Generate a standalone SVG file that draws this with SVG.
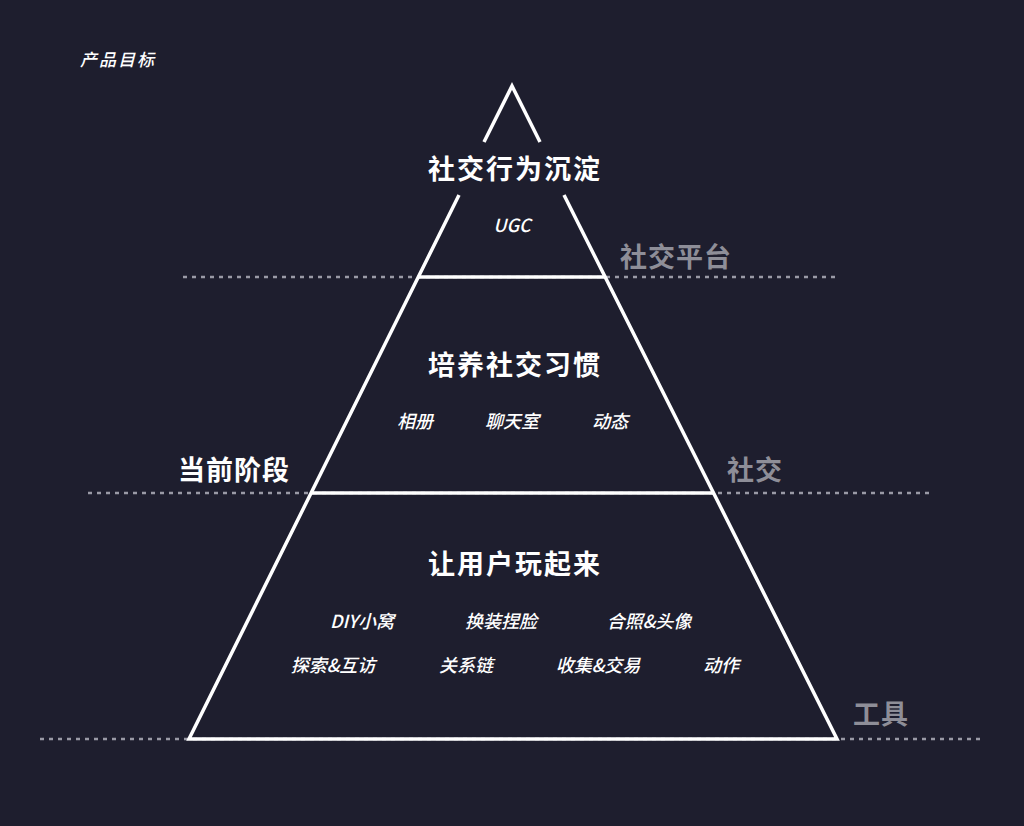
<svg xmlns="http://www.w3.org/2000/svg" width="1024" height="826" viewBox="0 0 1024 826">
<style>
text{font-family:"Noto Sans CJK SC","Noto Sans",sans-serif;fill:#fff}
.t{font-size:27px;font-weight:bold;text-anchor:middle;letter-spacing:2px}
.s{font-size:18px;text-anchor:middle;font-style:italic;font-weight:500}
.g{font-size:27px;fill:#8e8e98;font-weight:bold;letter-spacing:1px}
.d{stroke:#9a9aa6;stroke-width:2.5;stroke-dasharray:4 5}
.p{stroke:#fff;stroke-width:3.5;fill:none}
</style>
<rect width="1024" height="826" fill="#1e1e2e"/>
<g id="guides">
<line class="d" x1="183" y1="277" x2="836" y2="277"/>
<line class="d" x1="88" y1="493" x2="932" y2="493"/>
<line class="d" x1="40" y1="739" x2="980" y2="739"/>
</g>
<g id="pyramid">
<polyline class="p" points="484,142 512,86 540,142"/>
<polyline class="p" points="459,195 189,739 837,739 564,195"/>
<line class="p" x1="418" y1="277" x2="605" y2="277"/>
<line class="p" x1="311" y1="493" x2="714" y2="493"/>
</g>
<text x="80" y="66" font-size="17" font-style="italic" font-weight="500" letter-spacing="2">产品目标</text>
<g id="top"><text class="t" x="515" y="179">社交行为沉淀</text><text class="s" x="512" y="232">UGC</text></g>
<g id="mid"><text class="t" x="515" y="375">培养社交习惯</text>
<text class="s" x="415" y="428">相册</text><text class="s" x="512" y="428">聊天室</text><text class="s" x="610" y="428">动态</text></g>
<g id="bot"><text class="t" x="515" y="574">让用户玩起来</text>
<text class="s" x="362" y="628">DIY小窝</text><text class="s" x="501" y="628">换装捏脸</text><text class="s" x="649" y="628">合照&amp;头像</text>
<text class="s" x="333" y="672">探索&amp;互访</text><text class="s" x="466" y="672">关系链</text><text class="s" x="598" y="672">收集&amp;交易</text><text class="s" x="721" y="672">动作</text></g>
<text class="g" x="620" y="267">社交平台</text>
<text class="g" x="727" y="480">社交</text>
<text class="g" x="853" y="724">工具</text>
<text x="178" y="480" font-size="27" font-weight="bold" letter-spacing="1">当前阶段</text>
</svg>
